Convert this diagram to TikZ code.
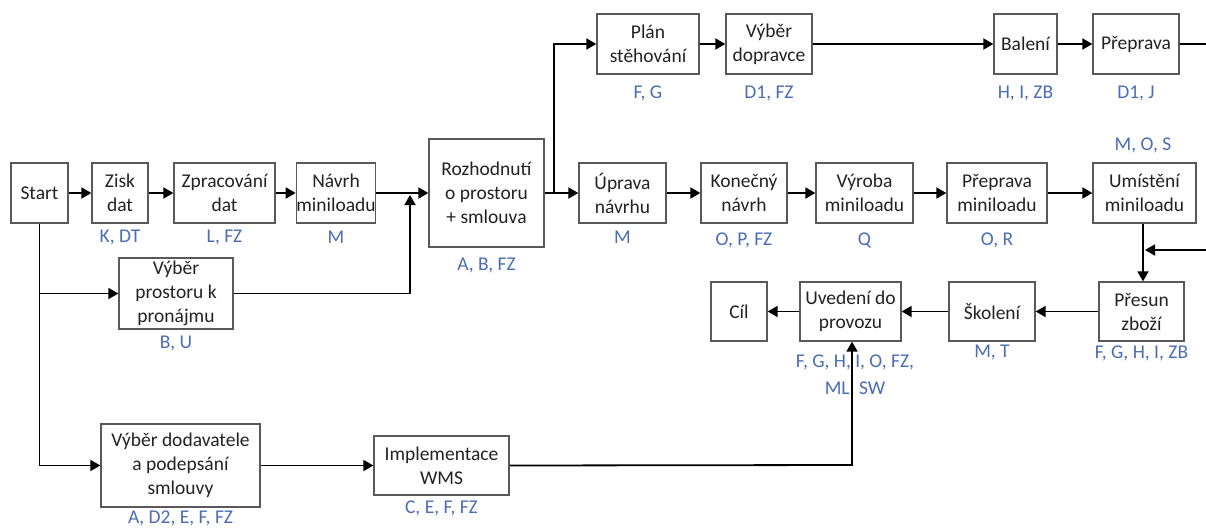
\documentclass[tikz,border=0pt]{standalone}
\usepackage{fontspec}
\setmainfont{Carlito}
\usetikzlibrary{arrows.meta}
\definecolor{boxline}{HTML}{595959}
\definecolor{res}{HTML}{4A6DB5}
\definecolor{txt}{HTML}{222222}
\begin{document}
\begin{tikzpicture}[x=1pt,y=-1pt,
  stepbox/.style={draw=boxline,line width=1.3pt,fill=white,inner sep=0pt,
    align=center,text=txt,font=\fontsize{19.5}{24}\selectfont,
    minimum height=60pt},
  reslabel/.style={inner sep=0pt,text=res,align=center,
    font=\fontsize{19.5}{27}\selectfont},
  conn/.style={line width=1.8pt,draw=black},
  arr/.style={conn,-{Triangle[length=10pt,width=11pt]}}]
\useasboundingbox[fill=white] (0,0) rectangle (1206,527);

% main row of steps
\node[stepbox,minimum width=57pt] (start) at (39.5,193) {Start};
\node[stepbox,minimum width=56pt] (zisk) at (120,193) {Zisk\\dat};
\node[stepbox,minimum width=101pt] (zprac) at (224.5,193) {Zpracování\\dat};
\node[stepbox,minimum width=70pt] (navrh) at (336,193) {Návrh\\miniloadu};
\node[stepbox,minimum width=115pt,minimum height=108pt] (rozh) at (486.5,193) {Rozhodnutí\\o prostoru\\+ smlouva};
\node[stepbox,minimum width=87pt] (uprava) at (622.5,193) {Úprava\\návrhu};
\node[stepbox,minimum width=86pt] (konec) at (744,193) {Konečný\\návrh};
\node[stepbox,minimum width=97pt] (vyroba) at (864.5,193) {Výroba\\miniloadu};
\node[stepbox,minimum width=100pt] (prepmini) at (997,193) {Přeprava\\miniloadu};
\node[stepbox,minimum width=103pt] (umist) at (1144.5,193) {Umístění\\miniloadu};

% moving branch
\node[stepbox,minimum width=102pt] (plan) at (648,44) {Plán\\stěhování};
\node[stepbox,minimum width=86pt] (dopr) at (769,44) {Výběr\\dopravce};
\node[stepbox,minimum width=63pt] (baleni) at (1025.5,44) {Balení};
\node[stepbox,minimum width=86pt] (prep) at (1136,44) {Přeprava};

% return row
\node[stepbox,minimum width=85pt,minimum height=59pt] (presun) at (1141.5,311.5) {Přesun\\zboží};
\node[stepbox,minimum width=86pt,minimum height=59pt] (skol) at (992,311.5) {Školení};
\node[stepbox,minimum width=101pt,minimum height=59pt] (uved) at (850.5,311.5) {Uvedení do\\provozu};
\node[stepbox,minimum width=56pt,minimum height=59pt] (cil) at (739,311.5) {Cíl};

% side branches
\node[stepbox,minimum width=114pt,minimum height=71pt] (prostor) at (176,293.5) {Výběr\\prostoru k\\pronájmu};
\node[stepbox,minimum width=159pt,minimum height=83pt] (dodav) at (180.5,465.5) {Výběr dodavatele\\a podepsání\\smlouvy};
\node[stepbox,minimum width=135pt,minimum height=59pt] (wms) at (441.5,465.5) {Implementace\\WMS};

% resource labels
\node[reslabel] (lzisk) at (120,237) {K, DT};
\node[reslabel] (lzprac) at (224.5,237) {L, FZ};
\node[reslabel] (lnavrh) at (336,237) {M};
\node[reslabel] (lrozh) at (486.5,265) {A, B, FZ};
\node[reslabel] (luprava) at (622.5,237) {M};
\node[reslabel] (lkonec) at (744,240) {O, P, FZ};
\node[reslabel] (lvyroba) at (864.5,240) {Q};
\node[reslabel] (lprepmini) at (997,240) {O, R};
\node[reslabel] (lumist) at (1143,145) {M, O, S};
\node[reslabel] (lplan) at (648,93) {F, G};
\node[reslabel] (ldopr) at (769,93) {D1, FZ};
\node[reslabel] (lbaleni) at (1025.5,93) {H, I, ZB};
\node[reslabel] (lprep) at (1136,93) {D1, J};
\node[reslabel] (lpresun) at (1141.5,353) {F, G, H, I, ZB};
\node[reslabel] (lskol) at (992,352) {M, T};
\node[reslabel] (luved) at (855,376) {F, G, H, I, O, FZ,\\ML, SW};
\node[reslabel] (lprostor) at (176,343) {B, U};
\node[reslabel] (ldodav) at (180.5,518) {A, D2, E, F, FZ};
\node[reslabel] (lwms) at (441.5,508) {C, E, F, FZ};

% junction points
\coordinate (jn) at (410,193);
\coordinate (js) at (554,193);
\coordinate (ju) at (1143,250);
\coordinate (jw) at (852,465);

% connectors
\draw[arr] (start) -- (zisk);
\draw[arr] (zisk) -- (zprac);
\draw[arr] (zprac) -- (navrh);
\draw[arr] (navrh) -- (rozh);
\draw[arr] (prostor.east) -| ([yshift=-2pt]jn);
\draw[arr] (rozh) -- (uprava);
\draw[arr] (js) |- (plan.west);
\draw[arr] (uprava) -- (konec);
\draw[arr] (konec) -- (vyroba);
\draw[arr] (vyroba) -- (prepmini);
\draw[arr] (prepmini) -- (umist);
\draw[arr] (plan) -- (dopr);
\draw[arr] (dopr) -- (baleni);
\draw[arr] (baleni) -- (prep);
\draw[arr] (prep.east) -- ++(40,0) |- ([xshift=2pt]ju);
\draw[arr] (ju |- umist.south) -- (ju |- presun.north);
\draw[arr] (presun) -- (skol);
\draw[arr] (skol) -- (uved);
\draw[arr] (uved) -- (cil);
\draw[conn] (start.south) -- (start.south |- dodav.west);
\draw[arr] (start.south |- prostor.west) -- (prostor.west);
\draw[arr] (start.south |- dodav.west) -- (dodav.west);
\draw[arr] (dodav) -- (wms);
\draw[arr] (wms.east) -- (jw) -- (jw |- uved.south);
\end{tikzpicture}
\end{document}
